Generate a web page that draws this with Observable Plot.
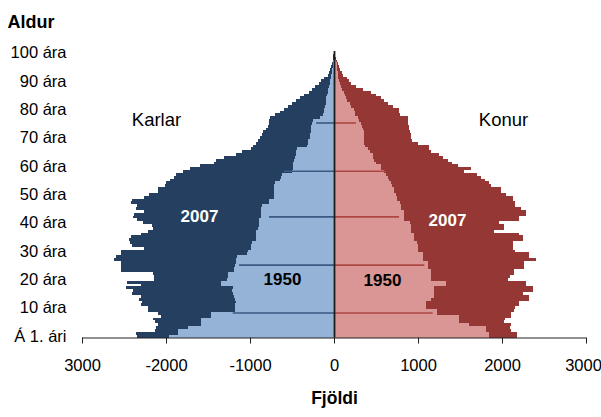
<!DOCTYPE html>
<html><head><meta charset="utf-8">
<script src="https://cdn.jsdelivr.net/npm/d3@7"></script>
<script src="https://cdn.jsdelivr.net/npm/@observablehq/plot@0.6"></script>
<style>body{margin:0;background:#fff} #chart{width:601px;height:417px}</style>
</head><body><div id="chart"></div>
<script>
// Y axis (age) ticks and labels
const ageTicks = [0, 10, 20, 30, 40, 50, 60, 70, 80, 90, 100];
const ageTickLabels = ["Á 1. ári", "10 ára", "20 ára", "30 ára", "40 ára", "50 ára", "60 ára", "70 ára", "80 ára", "90 ára", "100 ára"];
// X axis ticks and labels
const xTicks = [-3000, -2000, -1000, 0, 1000, 2000, 3000];
const xTickLabels = ["3000", "-2000", "-1000", "0", "1000", "2000", "3000"];

// Number of people by single year of age (0..100)
const men2007 = [2350,2360,2130,2120,2100,2130,2160,2060,2100,2220,2220,2300,2280,2320,2300,2400,2390,2480,2300,2470,
  2140,2140,2150,2530,2540,2530,2540,2615,2600,2540,2530,2260,2400,2430,2440,2420,2300,2220,2160,2170,
  2270,2350,2390,2380,2260,2360,2350,2420,2400,2260,2200,2100,2100,2010,2000,1950,1900,1880,1800,1720,
  1600,1430,1400,1310,1170,1100,990,960,930,910,880,860,840,810,780,770,770,760,700,640,
  600,550,500,450,400,360,300,260,230,180,150,120,70,55,45,30,20,14,10,6,5];
const men1950 = [1960,1860,1860,1740,1580,1580,1580,1460,1460,1180,1180,1180,1170,1180,1190,1200,1210,1200,1345,1345,
  1270,1266,1260,1190,1190,1180,1167,1167,1160,1030,1020,990,985,980,930,930,925,930,900,893,
  890,893,870,869,870,869,860,774,770,720,714,714,714,714,700,640,631,620,500,492,
  492,490,480,460,452,452,440,320,313,310,290,280,275,274,270,260,250,170,130,120,
  115,110,100,95,90,80,75,70,60,50,45,40,35,25,20,15,10,8,5,3,2];
const women2007 = [2180,2180,2107,2100,2107,2024,2030,2107,2107,2143,2150,2202,2200,2325,2320,2246,2365,2365,2286,2290,
  2067,2100,2143,2143,2262,2262,2262,2405,2325,2325,2160,2127,2127,2127,2246,2246,2200,1905,2024,2024,
  1964,2202,2202,2286,2286,2226,2160,2155,2127,2127,2050,1988,1988,1870,1845,1800,1750,1700,1550,1630,
  1472,1400,1353,1300,1250,1155,1131,1131,1000,930,917,917,900,890,890,880,877,877,790,774,
  774,700,640,600,560,500,440,350,262,200,180,150,103,100,70,54,45,30,24,15,10];
const women1950 = [1845,1845,1810,1810,1607,1488,1488,1488,1226,1226,1100,1095,1095,1155,1190,1190,1190,1190,1333,1333,
  1155,1155,1155,1155,1115,1115,1115,1056,1056,1056,996,996,996,990,956,956,950,917,917,917,
  900,837,837,837,830,800,800,790,750,750,740,718,714,690,680,660,640,620,600,560,
  560,500,480,470,460,430,401,365,361,360,360,360,355,345,330,321,300,290,250,245,
  240,200,190,150,140,125,120,100,85,75,60,50,44,44,40,35,30,20,12,8,4];

// thin lines drawn across the 1950 bars (age position, length for men / women)
const gridAges = [8.3, 25.2, 42.2, 58.3, 75.3];
const gridMen = [1206, 1130, 774, 595, 214];
const gridWomen = [1175, 1075, 774, 620, 262];

const ages = men2007.map((_, i) => i);
const rows = (vals, sign) => ages.map(a => ({age: a, v: sign * vals[a]}));

const navy = "#243F60", lightBlue = "#95B3D7", darkRed = "#953735", pink = "#D99694";
const lastTick = xTicks[xTicks.length - 1];
const fmtX = d => xTickLabels[xTicks.indexOf(d)];

const chart = Plot.plot({
  width: 601,
  height: 417,
  marginLeft: 82,
  marginRight: 15,
  marginTop: 51,
  marginBottom: 79.5,
  style: {fontFamily: "'Liberation Sans', Arial, sans-serif", fontSize: "16px", color: "#000", background: "#fff"},
  x: {domain: [-3000, 3000]},
  y: {domain: [-0.5, 100.5]},
  marks: [
    Plot.rectX(rows(men2007, -1), {x1: 0, x2: "v", y1: d => d.age - 0.5, y2: d => d.age + 0.5, fill: navy, shapeRendering: "crispEdges"}),
    Plot.rectX(rows(women2007, 1), {x1: 0, x2: "v", y1: d => d.age - 0.5, y2: d => d.age + 0.5, fill: darkRed, shapeRendering: "crispEdges"}),
    Plot.rectX(rows(men1950, -1), {x1: 0, x2: "v", y1: d => d.age - 0.5, y2: d => d.age + 0.5, fill: lightBlue, shapeRendering: "crispEdges"}),
    Plot.rectX(rows(women1950, 1), {x1: 0, x2: "v", y1: d => d.age - 0.5, y2: d => d.age + 0.5, fill: pink, shapeRendering: "crispEdges"}),
    Plot.ruleY(gridAges.map((g, i) => ({g, e: -gridMen[i]})), {y: "g", x1: 0, x2: "e", stroke: "#3A5A84", strokeWidth: 1.6}),
    Plot.ruleY(gridAges.map((g, i) => ({g, e: gridWomen[i]})), {y: "g", x1: 0, x2: "e", stroke: "#AE4744", strokeWidth: 1.6}),
    Plot.ruleX([0], {y1: -0.5, y2: 100.5, stroke: "#1c1c1c", strokeWidth: 1.8}),
    Plot.ruleY([-0.5], {stroke: "#222", strokeWidth: 1}),
    Plot.axisX({ticks: xTicks, tickSize: 6, tickFormat: () => "", label: null, stroke: "#222"}),
    Plot.axisX({ticks: xTicks.slice(0, -1), tickSize: 0, tickPadding: 21, tickFormat: fmtX, fontSize: 16.5, label: null}),
    Plot.axisX({ticks: [lastTick], tickSize: 0, tickPadding: 21, dx: -3, tickFormat: fmtX, fontSize: 16.5, label: null}),
    Plot.axisY({ticks: ageTicks, tickSize: 0, tickPadding: 16, tickFormat: d => ageTickLabels[ageTicks.indexOf(d)], fontSize: 16.5, label: null}),
    Plot.text(["Karlar"], {x: -2119, y: 76.5, text: d => d, fontSize: 18.5, fill: "#000"}),
    Plot.text(["Konur"], {x: 2012, y: 76.5, text: d => d, fontSize: 18.5, fill: "#000"}),
    Plot.text(["2007"], {x: -1607, y: 42.3, text: d => d, fontSize: 17, fontWeight: "bold", fill: "#fff"}),
    Plot.text(["2007"], {x: 1345, y: 40.8, text: d => d, fontSize: 17, fontWeight: "bold", fill: "#fff"}),
    Plot.text(["1950"], {x: -619, y: 20.2, text: d => d, fontSize: 17, fontWeight: "bold", fill: "#000"}),
    Plot.text(["1950"], {x: 571, y: 19.8, text: d => d, fontSize: 17, fontWeight: "bold", fill: "#000"}),
    Plot.text(["Aldur"], {frameAnchor: "top-left", dx: -75, dy: -36, text: d => d, textAnchor: "start", fontSize: 18, fontWeight: "bold", fill: "#000"}),
    Plot.text(["Fjöldi"], {frameAnchor: "bottom", dy: 66, text: d => d, fontSize: 17.5, fontWeight: "bold", fill: "#000"})
  ]
});
document.getElementById("chart").appendChild(chart);
</script>
</body></html>
